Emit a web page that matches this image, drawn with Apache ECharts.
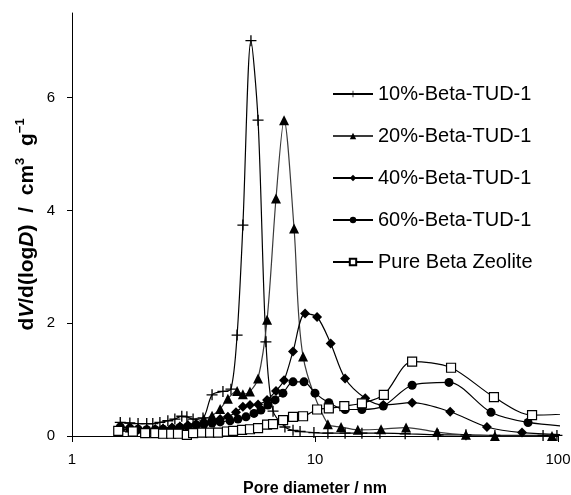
<!DOCTYPE html>
<html>
<head>
<meta charset="utf-8">
<script src="https://cdn.jsdelivr.net/npm/echarts@6/dist/echarts.min.js"></script>
<style>
  html, body { margin: 0; padding: 0; background: #fff; }
  #chart { width: 571px; height: 495px; }
</style>
</head>
<body>
<div id="chart"></div>
<script>
// BJH pore size distributions: pore diameter (nm) and dV/d(logD) (cm3 g-1)
const seriesNames = ['10%-Beta-TUD-1', '20%-Beta-TUD-1', '40%-Beta-TUD-1', '60%-Beta-TUD-1', 'Pure Beta Zeolite'];

const diam10 = [1.58, 1.73, 1.87, 2.03, 2.15, 2.30, 2.48, 2.65, 2.83, 2.97, 3.15, 3.46, 3.77, 4.18, 4.51, 4.78, 5.05, 5.45, 5.83, 6.28, 6.72, 7.52, 8.12, 8.68, 9.9, 11.3, 13.3, 15.6, 18.5, 23.5, 32.1, 41.8, 55.0, 86.8, 99.0];
const dv10 = [0.24, 0.23, 0.22, 0.22, 0.22, 0.24, 0.27, 0.30, 0.35, 0.34, 0.30, 0.32, 0.73, 0.79, 0.83, 1.79, 3.74, 7.01, 5.60, 1.67, 0.44, 0.16, 0.10, 0.08, 0.06, 0.05, 0.05, 0.05, 0.05, 0.04, 0.02, 0.02, 0.01, 0.01, 0.01];

const diam20 = [1.58, 1.73, 1.87, 2.03, 2.20, 2.37, 2.58, 2.78, 3.00, 3.24, 3.49, 3.77, 4.07, 4.38, 4.78, 5.05, 5.40, 5.83, 6.35, 6.91, 7.46, 8.20, 8.93, 11.3, 12.8, 15.0, 18.7, 23.7, 31.8, 41.8, 55.0, 94.5];
const dv20 = [0.17, 0.15, 0.14, 0.13, 0.13, 0.14, 0.15, 0.17, 0.20, 0.24, 0.30, 0.36, 0.48, 0.66, 0.80, 0.74, 0.79, 1.02, 2.06, 4.21, 5.60, 3.68, 1.41, 0.21, 0.16, 0.11, 0.12, 0.15, 0.07, 0.02, 0.00, 0.00];

const diam40 = [1.58, 1.73, 1.87, 2.03, 2.20, 2.37, 2.58, 2.78, 3.00, 3.24, 3.49, 3.77, 4.07, 4.38, 4.73, 5.05, 5.40, 5.83, 6.35, 6.91, 7.46, 8.12, 9.10, 10.2, 11.6, 13.3, 16.1, 19.1, 25.1, 36.0, 51.0, 71.1, 130];
const dv40 = [0.12, 0.12, 0.11, 0.11, 0.12, 0.13, 0.15, 0.17, 0.19, 0.21, 0.24, 0.27, 0.30, 0.34, 0.42, 0.52, 0.55, 0.56, 0.64, 0.80, 0.99, 1.50, 2.17, 2.11, 1.64, 1.02, 0.67, 0.55, 0.59, 0.43, 0.16, 0.06, 0.01];

const diam60 = [1.58, 1.73, 1.87, 2.03, 2.20, 2.37, 2.58, 2.78, 3.00, 3.24, 3.49, 3.77, 4.07, 4.47, 4.82, 5.20, 5.61, 5.99, 6.40, 6.85, 7.38, 8.12, 9.01, 10.0, 11.4, 13.3, 15.6, 19.1, 25.1, 35.6, 53.0, 75.3, 130];
const dv60 = [0.16, 0.14, 0.12, 0.11, 0.11, 0.12, 0.13, 0.15, 0.17, 0.19, 0.21, 0.23, 0.25, 0.27, 0.30, 0.34, 0.40, 0.46, 0.55, 0.64, 0.76, 0.96, 0.96, 0.76, 0.59, 0.47, 0.47, 0.53, 0.90, 0.95, 0.42, 0.24, 0.15];

const diamPure = [1.55, 1.78, 2.00, 2.20, 2.37, 2.56, 2.73, 2.97, 3.15, 3.43, 3.70, 3.99, 4.34, 4.60, 5.01, 5.40, 5.83, 6.35, 6.72, 7.39, 8.12, 8.93, 10.2, 11.4, 13.2, 15.6, 19.2, 25.1, 36.3, 54.5, 78.2, 130];
const dvPure = [0.09, 0.08, 0.05, 0.05, 0.04, 0.04, 0.04, 0.02, 0.05, 0.06, 0.06, 0.06, 0.08, 0.09, 0.11, 0.12, 0.14, 0.20, 0.21, 0.28, 0.34, 0.35, 0.47, 0.49, 0.53, 0.58, 0.73, 1.32, 1.21, 0.69, 0.37, 0.41];

const xTicks = [1, 10, 100];
const yTicks = [0, 2, 4, 6];

const FONT = '"Liberation Sans", Arial, sans-serif';
const pairs = (xs, ys) => xs.map((x, i) => [x, ys[i]]);
const plusPath = 'path://M4.4,0H5.6V4.4H10V5.6H5.6V10H4.4V5.6H0V4.4H4.4Z';

function makeSeries(name, xs, ys, symbol, size, fill, lineColor) {
  return {
    name: name,
    type: 'line',
    data: pairs(xs, ys),
    smooth: 0.3,
    clip: true,
    showAllSymbol: true,
    symbol: symbol,
    symbolSize: size,
    lineStyle: { color: lineColor, width: 1.2 },
    itemStyle: { color: fill, borderColor: '#000', borderWidth: fill === '#fff' ? 1.2 : 0 },
    emphasis: { disabled: true }
  };
}

const chart = echarts.init(document.getElementById('chart'), null, { renderer: 'canvas' });
chart.setOption({
  animation: false,
  backgroundColor: '#fff',
  textStyle: { fontFamily: FONT },
  grid: { left: 72, right: 13, top: 13, bottom: 59, containLabel: false, outerBoundsMode: 'none' },
  legend: {
    orient: 'vertical',
    left: 327,
    top: 79,
    itemWidth: 40,
    itemHeight: 8,
    itemGap: 22,
    selectedMode: false,
    data: seriesNames,
    textStyle: { fontFamily: FONT, fontSize: 20, color: '#000', lineHeight: 20 }
  },
  xAxis: {
    type: 'log',
    logBase: 10,
    min: 1,
    max: 100,
    name: 'Pore diameter / nm',
    nameLocation: 'middle',
    nameGap: 45,
    nameMoveOverlap: false,
    nameTextStyle: { fontFamily: FONT, fontWeight: 'bold', fontSize: 16, color: '#000' },
    axisLine: { lineStyle: { color: '#000', width: 1 } },
    axisTick: { show: true, inside: false, length: 6, lineStyle: { color: '#000' }, customValues: xTicks },
    minorTick: { show: false },
    axisLabel: { fontFamily: FONT, fontSize: 15, color: '#000', margin: 16, customValues: xTicks },
    splitLine: { show: false }
  },
  yAxis: {
    type: 'value',
    min: 0,
    max: 7.5,
    interval: 2,
    name: '{n|d}{i|V}{n|/d(log}{i|D}{n|)  /  cm}{s|3}{n|  g}{s|−1}',
    nameLocation: 'middle',
    nameRotate: 90,
    nameGap: 32,
    nameMoveOverlap: false,
    nameTextStyle: {
      fontFamily: FONT, fontWeight: 'bold', fontSize: 21, color: '#000',
      rich: {
        n: { fontFamily: FONT, fontWeight: 'bold', fontSize: 21, lineHeight: 26, color: '#000' },
        i: { fontFamily: FONT, fontWeight: 'bold', fontStyle: 'italic', fontSize: 21, lineHeight: 26, color: '#000' },
        s: { fontFamily: FONT, fontWeight: 'bold', fontSize: 13, lineHeight: 13, verticalAlign: 'top', color: '#000' }
      }
    },
    axisLine: { show: true, lineStyle: { color: '#000', width: 1 } },
    axisTick: { show: true, inside: false, length: 5, lineStyle: { color: '#000' }, customValues: yTicks },
    axisLabel: { fontFamily: FONT, fontSize: 15, color: '#000', margin: 17, customValues: yTicks },
    splitLine: { show: false }
  },
  series: [
    makeSeries(seriesNames[0], diam10, dv10, plusPath, 11, '#000', '#000'),
    makeSeries(seriesNames[1], diam20, dv20, 'triangle', 10, '#000', '#3a3a3a'),
    makeSeries(seriesNames[2], diam40, dv40, 'diamond', 10, '#000', '#000'),
    makeSeries(seriesNames[3], diam60, dv60, 'circle', 9, '#000', '#000'),
    makeSeries(seriesNames[4], diamPure, dvPure, 'rect', 9, '#fff', '#000')
  ]
});
</script>
</body>
</html>
